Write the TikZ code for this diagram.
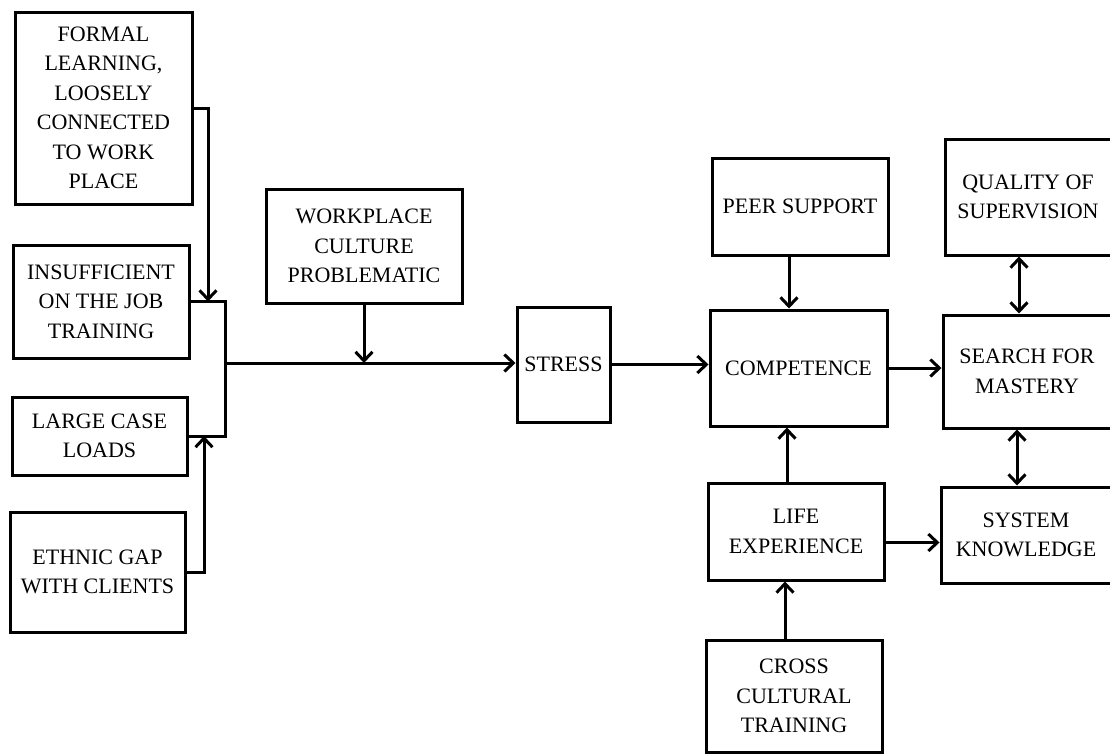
\documentclass[tikz,border=0pt]{standalone}
\usepackage{fontspec}
\setmainfont{Liberation Serif}
\usetikzlibrary{arrows.meta}
\begin{document}
\begin{tikzpicture}[x=1pt,y=-1pt,
  box/.style={draw, line width=3pt, inner sep=0pt, align=center, font=\fontsize{22}{29.5}\selectfont},
  conn/.style={line width=3pt},
  arr/.style={conn, -{Straight Barb[length=9pt,width=17pt,line width=3pt]}},
  darr/.style={conn, {Straight Barb[length=9pt,width=17pt,line width=3pt]}-{Straight Barb[length=9pt,width=17pt,line width=3pt]}}]
\fill[white] (0,0) rectangle (1110,755);
\useasboundingbox (0,0) rectangle (1110,755);

% left column
\node[box, minimum width=177pt, minimum height=192pt] (formal) at (103.5,108) {FORMAL\\LEARNING,\\LOOSELY\\CONNECTED\\TO WORK\\PLACE};
\node[box, minimum width=176pt, minimum height=113pt] (insuff) at (101,301.5) {INSUFFICIENT\\ON THE JOB\\TRAINING};
\node[box, minimum width=175pt, minimum height=78pt] (large) at (99.5,436) {LARGE CASE\\LOADS};
\node[box, minimum width=175pt, minimum height=120pt] (ethnic) at (97.5,572) {ETHNIC GAP\\WITH CLIENTS};

% middle
\node[box, minimum width=196pt, minimum height=114pt] (work) at (364,246) {WORKPLACE\\CULTURE\\PROBLEMATIC};
\node[box, minimum width=93pt, minimum height=115pt] (stress) at (563.5,364.5) {STRESS};

% competence column
\node[box, minimum width=176pt, minimum height=97pt] (peer) at (800,206.5) {PEER SUPPORT};
\node[box, minimum width=177pt, minimum height=116pt] (comp) at (798.5,368) {COMPETENCE};
\node[box, minimum width=176pt, minimum height=97pt] (life) at (796,531.5) {LIFE\\EXPERIENCE};
\node[box, minimum width=176pt, minimum height=112pt] (cross) at (794,696) {CROSS\\CULTURAL\\TRAINING};

% right column
\node[box, minimum width=166pt, minimum height=116pt] (quality) at (1028,197) {QUALITY OF\\SUPERVISION};
\node[box, minimum width=168pt, minimum height=113pt] (search) at (1027,371.5) {SEARCH FOR\\MASTERY};
\node[box, minimum width=170pt, minimum height=96pt] (system) at (1026,535) {SYSTEM\\KNOWLEDGE};

% bracket joining the left boxes
\coordinate (btop) at (225,301.5);
\coordinate (bbot) at (225,436);
\coordinate (bmid) at (225,363);
\draw[conn] (insuff.east) -- (btop) -- (bbot) -- (large.east);

% formal -> bracket top
\coordinate (fa) at (208,108);
\draw[arr] (formal.east) -- (fa) -- (fa |- btop);
% ethnic -> bracket bottom
\coordinate (ea) at (204,572);
\draw[arr] (ethnic.east) -- (ea) -- (ea |- bbot);

% bracket -> stress
\draw[arr] (bmid) -- (bmid -| stress.west);
% workplace -> line
\draw[arr] (work.south) -- (work.south |- bmid);

% stress -> competence
\draw[arr] (stress.east) -- (stress.east -| comp.west);
% peer -> competence
\draw[arr] ([xshift=-11pt]peer.south) -- ([xshift=-11pt]peer.south |- comp.north);
% life -> competence
\draw[arr] ([xshift=-9pt]life.north) -- ([xshift=-9pt]life.north |- comp.south);
% cross -> life
\draw[arr] ([xshift=-9pt]cross.north) -- ([xshift=-9pt]cross.north |- life.south);
% competence -> search
\draw[arr] (comp.east) -- (comp.east -| search.west);
% life -> system
\draw[arr] ([yshift=-11pt]life.east) -- ([yshift=-11pt]life.east -| system.west);
% quality <-> search
\draw[darr] ([xshift=-9pt]quality.south) -- ([xshift=-9pt]quality.south |- search.north);
% search <-> system
\draw[darr] ([xshift=-10pt]search.south) -- ([xshift=-10pt]search.south |- system.north);
\end{tikzpicture}
\end{document}
